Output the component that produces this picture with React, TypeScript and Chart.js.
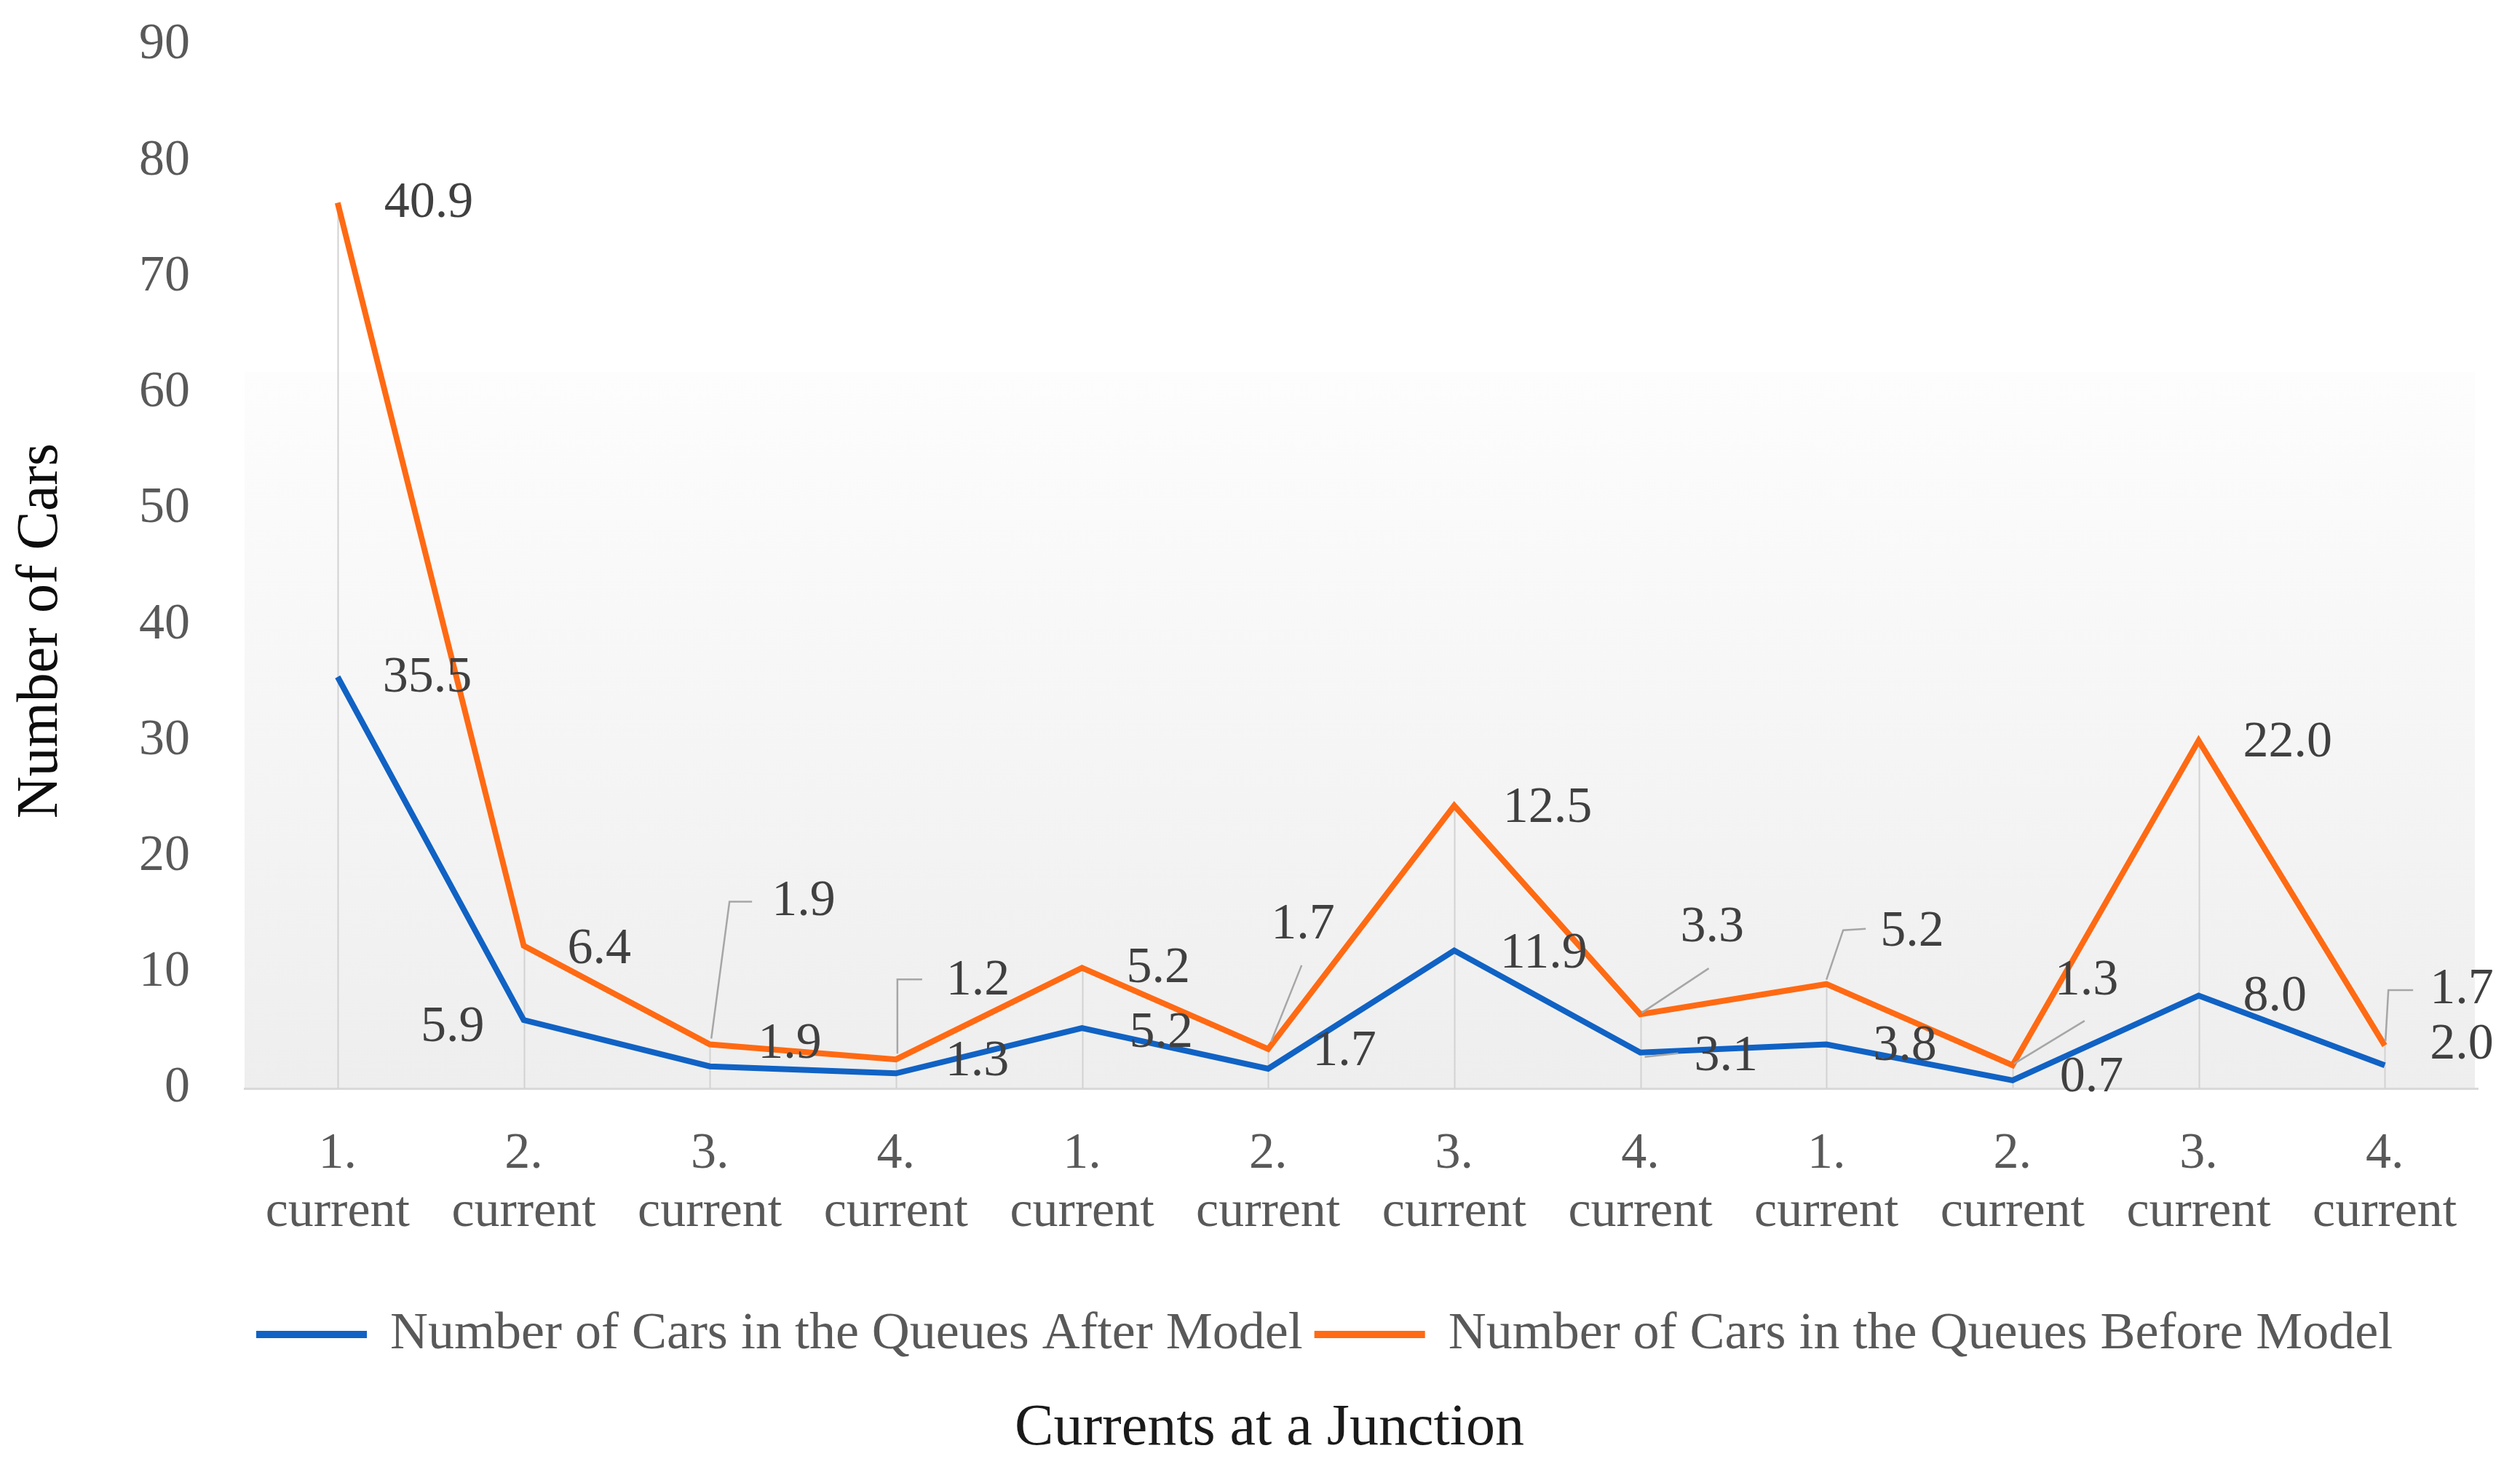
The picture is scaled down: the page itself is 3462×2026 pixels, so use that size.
import React, { useEffect, useRef } from 'react';
import { Chart, registerables } from 'chart.js';

Chart.register(...registerables);

// ---------- data ----------
const tickNumbers = ['1.', '2.', '3.', '4.', '1.', '2.', '3.', '4.', '1.', '2.', '3.', '4.'];
const tickWord = 'current';
const afterModel = [35.5, 5.9, 1.9, 1.3, 5.2, 1.7, 11.9, 3.1, 3.8, 0.7, 8.0, 2.0];
const beforeModel = [40.9, 6.4, 1.9, 1.2, 5.2, 1.7, 12.5, 3.3, 5.2, 1.3, 22.0, 1.7];
const seriesNames = [
  'Number of Cars in the Queues After Model',
  'Number of Cars in the Queues Before Model',
];
const yAxisTitle = 'Number of Cars';
const xAxisTitle = 'Currents at a Junction';
const yMin = 0;
const yMax = 90;
const yStep = 10;

// ---------- style ----------
const BLUE = '#1062C4';
const ORANGE = '#FF6A13';
const FONT = '"Liberation Serif", "Times New Roman", serif';
const TICK_COLOR = '#595959';
const LABEL_COLOR = '#404040';

type LabelLayout = { dx: number; dy: number; align?: 'left' | 'right'; leader?: number[][] };

// label placement relative to each point (pixels)
const blueLabelLayout: LabelLayout[] = [
  { dx: 62, dy: 2 },
  { dx: -54, dy: 11, align: 'right' },
  { dx: 66, dy: -30 },
  { dx: 68, dy: -16 },
  { dx: 65, dy: 7 },
  { dx: 61, dy: -23 },
  { dx: 63, dy: 5 },
  { dx: 74, dy: 6, leader: [[6, 6], [52, 1]] },
  { dx: 64, dy: 3 },
  { dx: 65, dy: -3 },
  { dx: 61, dy: 2 },
  { dx: 62, dy: -28 },
];
const orangeLabelLayout: LabelLayout[] = [
  { dx: 64, dy: 1 },
  { dx: 60, dy: 5 },
  { dx: 85, dy: -196, leader: [[2, -8], [27, -196], [58, -196]] },
  { dx: 69, dy: -108, leader: [[2, -8], [2, -110], [36, -110]] },
  { dx: 61, dy: 1 },
  { dx: 4, dy: -170, leader: [[4, -10], [46, -115]] },
  { dx: 67, dy: 4 },
  { dx: 55, dy: -118, leader: [[2, -2], [94, -63]] },
  { dx: 74, dy: -71, leader: [[0, -6], [23, -74], [54, -76]] },
  { dx: 58, dy: -116, leader: [[2, -2], [99, -61]] },
  { dx: 61, dy: 3 },
  { dx: 62, dy: -76, leader: [[1, -6], [5, -76], [39, -76]] },
];
const LABEL_LAYOUT = [blueLabelLayout, orangeLabelLayout];

// ---------- plugins ----------
const plotBackground = {
  id: 'plotBackground',
  beforeDraw(chart: any) {
    const { ctx, chartArea, width, height } = chart;
    ctx.save();
    ctx.fillStyle = '#ffffff';
    ctx.fillRect(0, 0, width, height);
    const y = chart.scales.y;
    const top = y.getPixelForValue(61.8);
    const bottom = chartArea.bottom;
    const g = ctx.createLinearGradient(0, top, 0, bottom);
    g.addColorStop(0, '#fdfdfd');
    g.addColorStop(1, '#eeeeee');
    ctx.fillStyle = g;
    ctx.fillRect(chartArea.left, top, chartArea.right - chartArea.left - 4, bottom - top);
    ctx.restore();
  },
};

const dropLines = {
  id: 'dropLines',
  beforeDatasetsDraw(chart: any) {
    const { ctx } = chart;
    const n = chart.data.datasets.length;
    const meta = chart.getDatasetMeta(n - 1);
    const y0 = chart.scales.y.getPixelForValue(0);
    ctx.save();
    ctx.strokeStyle = '#d2d2d2';
    ctx.lineWidth = 2;
    ctx.beginPath();
    meta.data.forEach((pt: any) => {
      ctx.moveTo(Math.round(pt.x) + 0.5, pt.y);
      ctx.lineTo(Math.round(pt.x) + 0.5, y0);
    });
    ctx.stroke();
    ctx.restore();
  },
};

const valueLabels = {
  id: 'valueLabels',
  afterDatasetsDraw(chart: any) {
    const { ctx } = chart;
    ctx.save();
    // leader lines
    ctx.strokeStyle = '#a6a6a6';
    ctx.lineWidth = 2.5;
    chart.data.datasets.forEach((ds: any, d: number) => {
      const meta = chart.getDatasetMeta(d);
      meta.data.forEach((pt: any, i: number) => {
        const L = LABEL_LAYOUT[d][i];
        if (!L || !L.leader) return;
        ctx.beginPath();
        L.leader.forEach(([lx, ly], k) => {
          if (k === 0) ctx.moveTo(pt.x + lx, pt.y + ly);
          else ctx.lineTo(pt.x + lx, pt.y + ly);
        });
        ctx.stroke();
      });
    });
    // text
    ctx.font = `70px ${FONT}`;
    ctx.fillStyle = LABEL_COLOR;
    ctx.textBaseline = 'middle';
    chart.data.datasets.forEach((ds: any, d: number) => {
      const meta = chart.getDatasetMeta(d);
      meta.data.forEach((pt: any, i: number) => {
        const L = LABEL_LAYOUT[d][i];
        const v = Number(ds.data[i]).toFixed(1);
        ctx.textAlign = L.align === 'right' ? 'right' : 'left';
        ctx.fillText(v, pt.x + L.dx, pt.y + L.dy);
      });
    });
    ctx.restore();
  },
};

const yTitle = {
  id: 'yTitle',
  afterDraw(chart: any) {
    const { ctx, chartArea } = chart;
    ctx.save();
    ctx.translate(57, (chartArea.top + chartArea.bottom) / 2 + 88);
    ctx.rotate(-Math.PI / 2);
    ctx.font = `80px ${FONT}`;
    ctx.fillStyle = '#0d0d0d';
    ctx.textAlign = 'center';
    ctx.textBaseline = 'middle';
    ctx.fillText(yAxisTitle, 0, 0);
    ctx.restore();
  },
};

export default function App() {
  const ref = useRef<HTMLCanvasElement | null>(null);

  useEffect(() => {
    if (!ref.current) return;
    const labels = tickNumbers.map((n) => [n, tickWord]);
    const chart = new Chart(ref.current, {
      type: 'line',
      data: {
        labels,
        datasets: [
          {
            label: seriesNames[0],
            data: afterModel,
            borderColor: BLUE,
            backgroundColor: BLUE,
            borderWidth: 8,
            pointRadius: 0,
            fill: false,
            tension: 0,
          },
          {
            label: seriesNames[1],
            data: beforeModel,
            borderColor: ORANGE,
            backgroundColor: ORANGE,
            borderWidth: 8,
            pointRadius: 0,
            fill: false,
            tension: 0,
          },
        ],
      },
      options: {
        animation: false,
        responsive: true,
        maintainAspectRatio: false,
        devicePixelRatio: 1,
        layout: { padding: { top: 62, right: 58, left: 84, bottom: 0 } },
        scales: {
          x: {
            offset: true,
            grid: { display: false, drawTicks: false },
            border: { display: true, color: '#d9d9d9', width: 3 },
            ticks: {
              color: TICK_COLOR,
              font: { family: FONT, size: 70, lineHeight: 1.15 },
              padding: 50,
              maxRotation: 0,
              autoSkip: false,
            },
            afterFit: (s: any) => {
              s.height = 282;
            },
          },
          y: {
            stacked: true,
            min: yMin,
            max: yMax,
            grid: { display: false, drawTicks: false },
            border: { display: false },
            ticks: {
              stepSize: yStep,
              color: TICK_COLOR,
              font: { family: FONT, size: 70 },
              padding: 75,
            },
            afterFit: (s: any) => {
              s.width = 252;
              s.paddingTop = 40;
              s.paddingBottom = 40;
            },
          },
        },
        plugins: {
          legend: {
            position: 'bottom',
            align: 'start',
            fullSize: false,
            labels: {
              boxWidth: 144,
              boxHeight: 2,
              padding: 20,
              color: TICK_COLOR,
              font: { family: FONT, size: 72 },
            },
          },
          title: {
            display: true,
            position: 'bottom',
            text: xAxisTitle,
            color: '#1a1a1a',
            font: { family: FONT, size: 80, weight: 'normal', lineHeight: 1.2 },
            padding: { top: 36, bottom: 15 },
          },
          tooltip: { enabled: false },
        },
      },
      plugins: [plotBackground, dropLines, valueLabels, yTitle],
    } as any);
    return () => chart.destroy();
  }, []);

  return (
    <div style={{ position: 'fixed', left: 0, top: 0, width: '100vw', height: '100vh', background: '#fff' }}>
      <canvas ref={ref} />
    </div>
  );
}
